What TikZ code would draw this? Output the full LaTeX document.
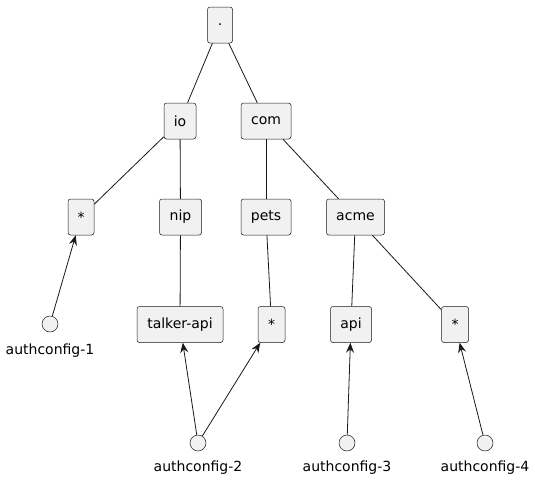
\documentclass[tikz,border=0pt]{standalone}
\usepackage{fontspec}
\setmainfont{DejaVu Sans}
\usetikzlibrary{arrows.meta}
\definecolor{boxfill}{HTML}{F1F1F1}
\definecolor{ink}{HTML}{181818}
\begin{document}
\begin{tikzpicture}[x=1pt,y=-1pt,
  every node/.style={font=\fontsize{14}{16}\selectfont, text=black},
  pbox/.style={draw=ink, line width=0.5pt, fill=boxfill, rounded corners=2.5pt, minimum height=36pt, inner sep=0pt},
  pcirc/.style={draw=ink, line width=0.5pt, fill=boxfill, circle, minimum size=16pt, inner sep=0pt},
  plabel/.style={inner sep=0pt},
  tree/.style={draw=ink, line width=0.8pt},
  ref/.style={draw=ink, line width=0.8pt, -{Stealth[length=10pt,width=8pt,inset=3.5pt]}}
]
\useasboundingbox (0,0) rectangle (535,480);
% boxes
\node[pbox, minimum width=25pt] (root) at (220,25) {.};
\node[pbox, minimum width=32pt] (io) at (180,121) {io};
\node[pbox, minimum width=50pt] (com) at (266,121) {com};
\node[pbox, minimum width=26pt] (s1) at (81,217) {*};
\node[pbox, minimum width=42pt] (nip) at (180.5,217) {nip};
\node[pbox, minimum width=50pt] (pets) at (266,217) {pets};
\node[pbox, minimum width=58pt] (acme) at (355.5,217) {acme};
\node[pbox, minimum width=86pt] (talker) at (180,324.5) {talker-api};
\node[pbox, minimum width=27pt] (s2) at (271.5,324.5) {*};
\node[pbox, minimum width=41pt] (api) at (351,324.5) {api};
\node[pbox, minimum width=27pt] (s3) at (455,324.5) {*};
% circles
\node[pcirc] (a1) at (50,324) {};
\node[plabel] (l1) at (50,351) {authconfig-1};
\node[pcirc] (a2) at (198,443) {};
\node[plabel] (l2) at (198,468) {authconfig-2};
\node[pcirc] (a3) at (347,443) {};
\node[plabel] (l3) at (347,468) {authconfig-3};
\node[pcirc] (a4) at (485,443) {};
\node[plabel] (l4) at (485,468) {authconfig-4};
% tree edges
\draw[tree] (root) -- (io);
\draw[tree] (root) -- (com);
\draw[tree] (io) -- (s1);
\draw[tree] (io) -- (nip);
\draw[tree] (com) -- (pets);
\draw[tree] (com) -- (acme);
\draw[tree] (nip) -- (talker);
\draw[tree] (pets) -- (s2);
\draw[tree] (acme) -- (api);
\draw[tree] (acme) -- (s3);
% references
\draw[ref] (a1) -- (s1);
\draw[ref] (a2) -- (talker);
\draw[ref] (a2) -- (s2);
\draw[ref] (a3) -- (api);
\draw[ref] (a4) -- (s3);
\end{tikzpicture}
\end{document}
